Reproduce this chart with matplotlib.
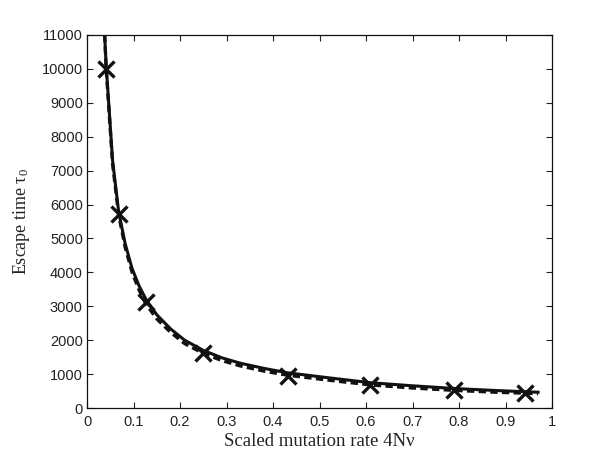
import matplotlib
matplotlib.use("Agg")
import matplotlib.pyplot as plt
from matplotlib.ticker import FixedLocator

# Simulation points (crosses)
sim_x = [0.040, 0.068, 0.127, 0.250, 0.432, 0.608, 0.789, 0.943]
sim_y = [10000, 5730, 3120, 1610, 950, 680, 520, 455]

# Solid curve (theory)
solid_x = [0.038, 0.041, 0.055, 0.068, 0.082, 0.097, 0.112, 0.127, 0.15, 0.18, 0.21, 0.25, 0.29, 0.33, 0.38, 0.43, 0.52, 0.61, 0.70, 0.79, 0.88, 0.97]
solid_y = [11000, 10150, 7300, 5800, 4850, 4110, 3600, 3200, 2750, 2330, 2000, 1700, 1480, 1320, 1170, 1040, 890, 745, 655, 575, 515, 465]

# Dashed curve (approximation)
dash_x = [0.038, 0.041, 0.055, 0.068, 0.082, 0.097, 0.112, 0.127, 0.15, 0.18, 0.21, 0.25, 0.29, 0.33, 0.38, 0.43, 0.52, 0.61, 0.70, 0.79, 0.88, 0.97]
dash_y = [11000, 10050, 7200, 5700, 4750, 4000, 3480, 3060, 2630, 2230, 1900, 1610, 1400, 1240, 1090, 970, 820, 680, 590, 520, 465, 425]

xticks = [0, 0.1, 0.2, 0.3, 0.4, 0.5, 0.6, 0.7, 0.8, 0.9, 1]
xticklabels = ["0", "0.1", "0.2", "0.3", "0.4", "0.5", "0.6", "0.7", "0.8", "0.9", "1"]
yticks = list(range(0, 11001, 1000))
yticklabels = [str(v) for v in yticks]

fig = plt.figure(figsize=(6.1, 4.58), dpi=100)
ax = fig.add_axes([87 / 610, 1 - 408 / 458, (552 - 87) / 610, (408 - 35) / 458])

ax.plot(dash_x, dash_y, color="#111111", lw=2.4, ls=(0, (2.2, 1.3)), clip_on=True)
ax.plot(solid_x, solid_y, color="#111111", lw=2.2, clip_on=True)
ax.plot(sim_x, sim_y, ls="none", marker="x", ms=12, mew=2.4, color="#111111")

ax.set_xlim(0, 1)
ax.set_ylim(0, 11000)
ax.xaxis.set_major_locator(FixedLocator(xticks))
ax.yaxis.set_major_locator(FixedLocator(yticks))
ax.set_xticklabels(xticklabels, family="Liberation Sans", fontsize=10.5, color="#222222")
ax.set_yticklabels(yticklabels, family="Liberation Sans", fontsize=10.5, color="#222222")
ax.tick_params(direction="in", top=True, right=True, length=4, width=0.8, colors="#222222")
ax.tick_params(axis="x", pad=5)
ax.tick_params(axis="y", pad=3)
for s in ax.spines.values():
    s.set_linewidth(0.9)
    s.set_color("#111111")

ax.set_xlabel("Scaled mutation rate 4N\u03bd", family="Liberation Serif", fontsize=13.5, color="#222222", labelpad=3)
ax.set_ylabel("Escape time $\\mathregular{\\tau_0}$", family="Liberation Serif", fontsize=13, color="#222222", labelpad=7)

fig.savefig("out.png", dpi=100)
